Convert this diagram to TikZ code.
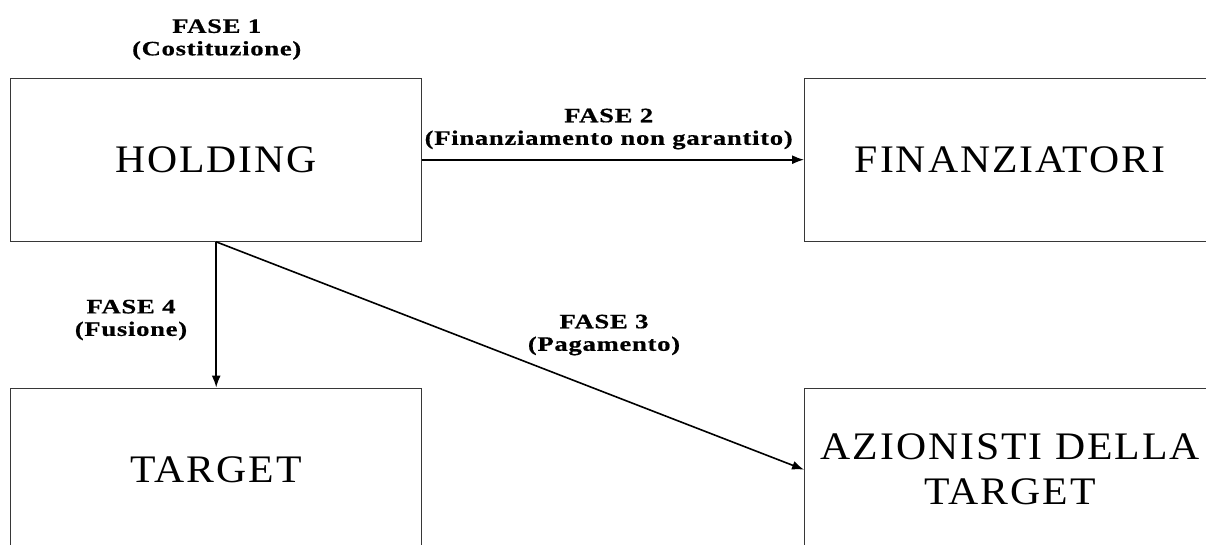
\documentclass[tikz,border=0pt]{standalone}
\usepackage{fontspec}
\setmainfont{Liberation Serif}
\newfontfamily\boxfont[FakeStretch=1.07,LetterSpace=5]{Liberation Serif}
\newfontfamily\labfont[FakeStretch=1.3,LetterSpace=3.5,FakeBold=0.6]{Liberation Serif}
\usetikzlibrary{arrows.meta}
\definecolor{boxgray}{RGB}{55,55,55}
\tikzset{
  box/.style={draw=boxgray, line width=1.3pt, minimum width=411pt, minimum height=163pt,
    inner sep=0pt, align=center, font=\boxfont\fontsize{39}{45}\selectfont},
  lab/.style={align=center, inner sep=0pt, font=\labfont\bfseries\fontsize{20.5}{22.5}\selectfont},
  conn/.style={line width=1.6pt, -{Latex[length=12pt,width=9pt]}}
}
\begin{document}
\begin{tikzpicture}[x=1pt,y=-1pt]
  \useasboundingbox (0,0) rectangle (1206,544);
  \clip (0,0) rectangle (1206,544);
  \node[box] (hold) at (216.2,159.7) {HOLDING};
  \node[box] (fin)  at (1010.2,159.7) {FINANZIATORI};
  \node[box] (tgt)  at (216.2,469.7) {TARGET};
  \node[box] (az)   at (1010.2,469.7) {AZIONISTI DELLA\\TARGET};

  \draw[conn] (hold.east) -- (fin.west);
  \draw[conn] (hold.south) -- (tgt.north);
  \draw[conn] (hold.south) -- (az.west);

  \node[lab] (l1) at (216.7,39.5) {FASE 1\\(Costituzione)};
  \node[lab] (l2) at (608.7,129) {FASE 2\\(Finanziamento non garantito)};
  \node[lab] (l3) at (604,335) {FASE 3\\(Pagamento)};
  \node[lab] (l4) at (131,320) {FASE 4\\(Fusione)};
\end{tikzpicture}
\end{document}
